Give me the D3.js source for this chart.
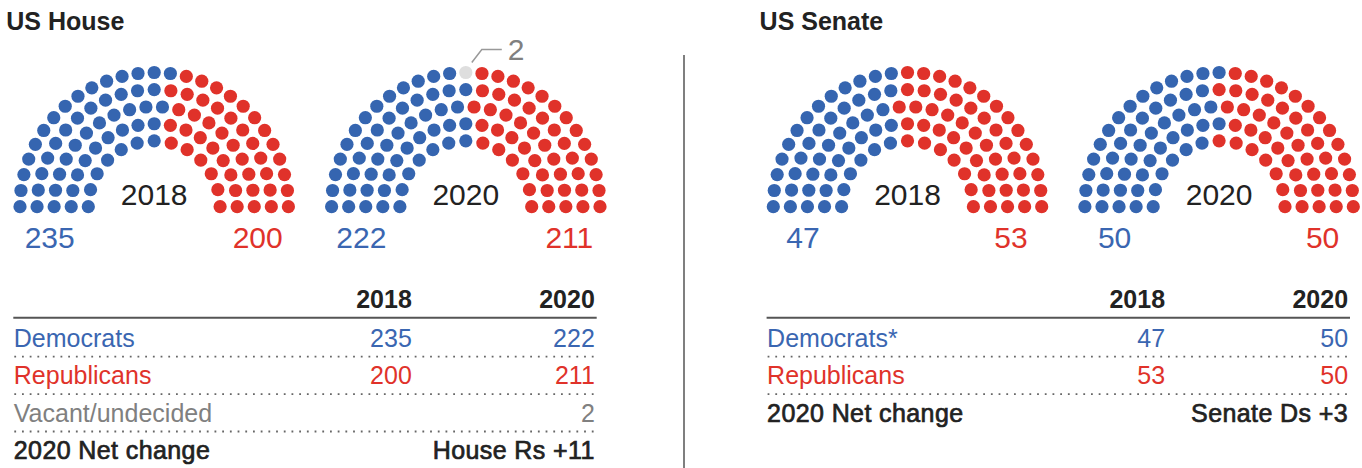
<!DOCTYPE html>
<html>
<head>
<meta charset="utf-8">
<script src="https://cdn.jsdelivr.net/npm/d3@7"></script>
<style>
  html, body { margin: 0; padding: 0; background: #fff; }
  svg { display: block; font-family: "Liberation Sans", Arial, Helvetica, sans-serif; }
</style>
</head>
<body>
<svg id="chart" width="1362" height="468"></svg>
<script>
// ---- Data -------------------------------------------------------------
const chambers = ["US House", "US Senate"];
const years = ["2018", "2020"];

// Seats held after each election
const houseDemocrats   = [235, 222];
const houseRepublicans = [200, 211];
const houseVacant      = [0, 2];
const senateDemocrats   = [47, 50];
const senateRepublicans = [53, 50];
const senateVacant      = [0, 0];

// Table labels
const houseRowLabels  = ["Democrats", "Republicans", "Vacant/undecided"];
const senateRowLabels = ["Democrats*", "Republicans"];
const netChangeLabel  = "2020 Net change";
const netChanges      = ["House Rs +11", "Senate Ds +3"];

// ---- Styling ------------------------------------------------------------
const DOT_FILL  = { dem: "#3565b0", rep: "#e0322a", vac: "#dedede" };
const TEXT_FILL = { dem: "#3a66b1", rep: "#e0322a", vac: "#808080", ink: "#222222" };
const DOTS_PER_ARC = 100;       // each arc shows the chamber as 100 dots
const ROWS = 5;
const R_INNER = 65.9, R_OUTER = 134.2, DOT_R = 6.6;
const ARC_CY = 206.7;
// Row order used when seats in different rows sit at the same angle
const ROW_TIE_PRIORITY = [4, 1, 3, 0, 2];

const svg = d3.select("#chart");

const panels = [
  { title: chambers[0], x: 13.3, dem: houseDemocrats, rep: houseRepublicans, vac: houseVacant,
    rowLabels: houseRowLabels, net: netChanges[0] },
  { title: chambers[1], x: 766.6, dem: senateDemocrats, rep: senateRepublicans, vac: senateVacant,
    rowLabels: senateRowLabels, net: netChanges[1] }
];

// ---- Seat geometry --------------------------------------------------------
function seatLayout(total) {
  const radius = d3.scaleLinear().domain([0, ROWS - 1]).range([R_INNER, R_OUTER]);
  const radii = d3.range(ROWS).map(radius);
  const sum = d3.sum(radii);
  const exact = radii.map(r => total * r / sum);
  const counts = exact.map(Math.floor);
  const left = total - d3.sum(counts);
  d3.range(ROWS)
    .sort((a, b) => (exact[b] - counts[b]) - (exact[a] - counts[a]))
    .slice(0, left)
    .forEach(i => counts[i]++);
  const seats = [];
  counts.forEach((n, row) => {
    const angle = d3.scaleLinear().domain([0, n - 1]).range([Math.PI, 0]);
    d3.range(n).forEach(k => seats.push({ row, r: radii[row], angle: angle(k) }));
  });
  return seats;
}

function dotCounts(d, r, v) {
  const total = d + r + v;
  const vac = v > 0 ? Math.max(1, Math.round(v / total * DOTS_PER_ARC)) : 0;
  const dem = Math.round(d / total * DOTS_PER_ARC);
  return { dem, vac, rep: DOTS_PER_ARC - dem - vac };
}

function assignParties(seats, counts) {
  // vacant seats take the crown of the outer row
  seats.slice()
    .sort((a, b) => b.row - a.row || Math.abs(a.angle - Math.PI / 2) - Math.abs(b.angle - Math.PI / 2))
    .slice(0, counts.vac)
    .forEach(s => { s.party = "vac"; });
  // the rest fill left to right by angle
  seats.filter(s => !s.party)
    .sort((a, b) => {
      const d = b.angle - a.angle;
      if (Math.abs(d) > 1e-9) return d;
      return ROW_TIE_PRIORITY.indexOf(a.row) - ROW_TIE_PRIORITY.indexOf(b.row);
    })
    .forEach((s, i) => { s.party = i < counts.dem ? "dem" : "rep"; });
  return seats;
}

// ---- Divider ------------------------------------------------------------------
svg.append("line")
  .attr("x1", 684).attr("x2", 684).attr("y1", 55).attr("y2", 468)
  .attr("stroke", "#555").attr("stroke-width", 1.5);

// ---- Panels ---------------------------------------------------------------------
panels.forEach(p => {
  const g = svg.append("g");

  g.append("text")
    .attr("x", p.x - 7).attr("y", 29.5)
    .attr("font-size", 25).attr("font-weight", "bold")
    .attr("fill", TEXT_FILL.ink)
    .text(p.title);

  const centres = [p.x + 140.9, p.x + 452.5];

  years.forEach((yr, yi) => {
    const cx = centres[yi];
    const counts = dotCounts(p.dem[yi], p.rep[yi], p.vac[yi]);
    const seats = assignParties(seatLayout(DOTS_PER_ARC), counts);
    const arc = g.append("g");

    arc.selectAll("circle")
      .data(seats)
      .join("circle")
      .attr("cx", d => cx + d.r * Math.cos(d.angle))
      .attr("cy", d => ARC_CY - d.r * Math.sin(d.angle))
      .attr("r", DOT_R)
      .attr("fill", d => DOT_FILL[d.party]);

    // leader and count for vacant seats
    const vacSeats = seats.filter(s => s.party === "vac");
    if (vacSeats.length) {
      const s = vacSeats[0];
      const sx = cx + s.r * Math.cos(s.angle), sy = ARC_CY - s.r * Math.sin(s.angle);
      arc.append("polyline")
        .attr("points", [[sx + 6, sy - 10], [sx + 16, sy - 23], [sx + 36, sy - 23]].map(q => q.join(",")).join(" "))
        .attr("fill", "none").attr("stroke", "#999").attr("stroke-width", 1.5);
      arc.append("text")
        .attr("x", sx + 42).attr("y", sy - 13)
        .attr("font-size", 30).attr("fill", TEXT_FILL.vac)
        .text(p.vac[yi]);
    }

    arc.append("text")
      .attr("x", cx).attr("y", 205)
      .attr("text-anchor", "middle").attr("font-size", 30)
      .attr("fill", TEXT_FILL.ink)
      .text(yr);

    arc.append("text")
      .attr("x", cx - 104.5).attr("y", 248)
      .attr("text-anchor", "middle").attr("font-size", 30)
      .attr("fill", TEXT_FILL.dem)
      .text(p.dem[yi]);

    arc.append("text")
      .attr("x", cx + 103.5).attr("y", 248)
      .attr("text-anchor", "middle").attr("font-size", 30)
      .attr("fill", TEXT_FILL.rep)
      .text(p.rep[yi]);
  });

  // ---- Table ----
  const colX = [p.x + 398.5, p.x + 581.5];
  const tableRight = p.x + 583.4;
  const t = g.append("g").attr("font-size", 25);

  t.selectAll("text.head")
    .data(years)
    .join("text")
    .attr("class", "head")
    .attr("x", (d, i) => colX[i]).attr("y", 308)
    .attr("text-anchor", "end").attr("font-weight", "bold")
    .attr("fill", TEXT_FILL.ink)
    .text(d => d);

  t.append("line")
    .attr("x1", p.x).attr("x2", tableRight)
    .attr("y1", 317.7).attr("y2", 317.7)
    .attr("stroke", "#555").attr("stroke-width", 2);

  const rows = [
    { label: p.rowLabels[0], vals: p.dem, key: "dem" },
    { label: p.rowLabels[1], vals: p.rep, key: "rep" }
  ];
  if (p.rowLabels[2]) rows.push({ label: p.rowLabels[2], vals: p.vac, key: "vac" });
  rows.push({ label: netChangeLabel, net: p.net, key: "ink" });

  const rowY = i => 347 + 37.45 * i;

  rows.forEach((row, i) => {
    const y = rowY(i);
    const isNet = row.net !== undefined;
    const lab = t.append("text")
      .attr("x", p.x + 0.5).attr("y", y)
      .attr("fill", TEXT_FILL[row.key])
      .text(row.label);
    if (isNet) {
      lab.attr("stroke", TEXT_FILL.ink).attr("stroke-width", 0.7).attr("letter-spacing", 0.4);
      t.append("text")
        .attr("x", colX[1]).attr("y", y)
        .attr("text-anchor", "end")
        .attr("fill", TEXT_FILL.ink)
        .attr("stroke", TEXT_FILL.ink).attr("stroke-width", 0.7).attr("letter-spacing", 0.4)
        .text(row.net);
    } else {
      t.selectAll(null)
        .data(row.vals)
        .join("text")
        .attr("x", (d, j) => colX[j]).attr("y", y)
        .attr("text-anchor", "end")
        .attr("fill", TEXT_FILL[row.key])
        .text(d => d ? d : "");
    }
    if (i < rows.length - 1) {
      t.append("line")
        .attr("x1", p.x + 1).attr("x2", tableRight)
        .attr("y1", y + 9.6).attr("y2", y + 9.6)
        .attr("stroke", "#666").attr("stroke-width", 1.8)
        .attr("stroke-dasharray", "1.8 5.9");
    }
  });
});
</script>
</body>
</html>
